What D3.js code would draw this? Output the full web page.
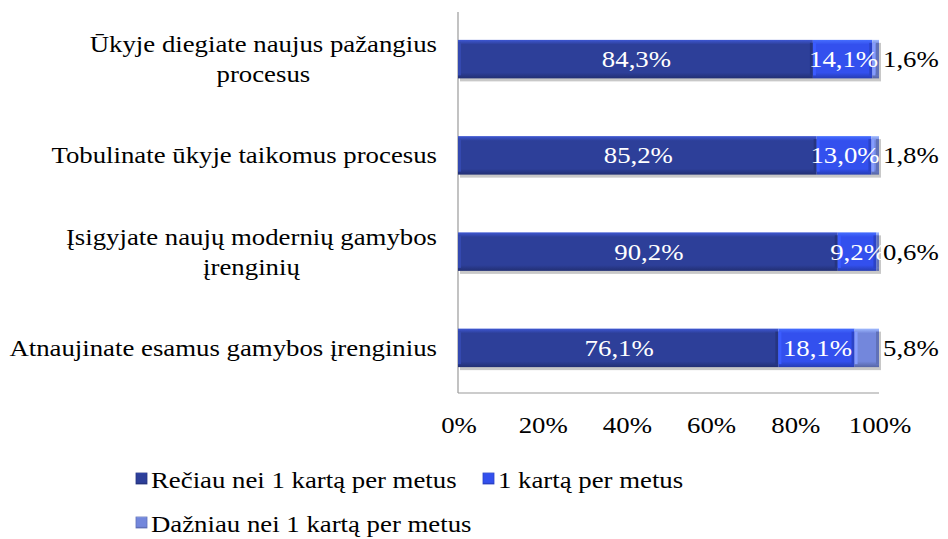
<!DOCTYPE html>
<html>
<head>
<meta charset="utf-8">
<script src="https://cdn.jsdelivr.net/npm/d3@7"></script>
</head>
<body style="margin:0; background:#fff">
<div id="chart"></div>
<script>
const categories = [
    ["Ūkyje diegiate naujus pažangius", "procesus"],
    ["Tobulinate ūkyje taikomus procesus"],
    ["Įsigyjate naujų modernių gamybos", "įrenginių"],
    ["Atnaujinate esamus gamybos įrenginius"]
];
const seriesNames = ["Rečiau nei 1 kartą per metus", "1 kartą per metus", "Dažniau nei 1 kartą per metus"];
const rarely = [84.3, 85.2, 90.2, 76.1];
const once = [14.1, 13.0, 9.2, 18.1];
const often = [1.6, 1.8, 0.6, 5.8];
const tickValues = [0, 20, 40, 60, 80, 100];

const colors = ["#2d3f99", "#3350ee", "#7387dc"];
const width = 948, height = 539;
const fontFamily = "Liberation Serif";
const stretch = 1.165;   // text in the original is a bit wider than Times

let svg = d3.select("#chart").append("svg")
    .attr("width", width)
    .attr("height", height);

// places a horizontally stretched text at (px, py)
function addText(parent, px, py, str, anchor) {
    return parent.append("text")
        .attr("transform", "translate(" + px + "," + py + ") scale(" + stretch + ",1)")
        .attr("text-anchor", anchor || "start")
        .attr("font-family", fontFamily)
        .attr("font-size", 23)
        .text(str);
}

let defs = svg.append("defs");
colors.forEach(function (c, i) {
    let g = defs.append("linearGradient")
        .attr("id", "grad" + i)
        .attr("x1", 0).attr("x2", 0).attr("y1", 0).attr("y2", 1);
    g.append("stop").attr("offset", "0%").attr("stop-color", d3.color(c).brighter(0.9));
    g.append("stop").attr("offset", "12%").attr("stop-color", c);
    g.append("stop").attr("offset", "85%").attr("stop-color", c);
    g.append("stop").attr("offset", "100%").attr("stop-color", d3.color(c).darker(0.8));
});

let x = d3.scaleLinear().domain([0, 100]).range([458, 879]);
let y = d3.scaleBand().domain(d3.range(categories.length)).range([11, 396])
    .paddingInner(0.6).paddingOuter(0.3);

// axis lines
svg.append("line").attr("x1", x(0)).attr("x2", x(0)).attr("y1", 12).attr("y2", 393)
    .attr("stroke", "#9a9a9a").attr("stroke-width", 1.2);
svg.append("line").attr("x1", x(0)).attr("x2", x(100)).attr("y1", 393).attr("y2", 393)
    .attr("stroke", "#9a9a9a").attr("stroke-width", 1.2);

// tick labels
tickValues.forEach(function (t) {
    addText(svg, x(t) + 1, 433, t + "%", "middle");
});

let fmt = v => v.toFixed(1).replace(".", ",") + "%";

let stacked = categories.map(function (c, i) {
    let vals = [rarely[i], once[i], often[i]];
    let start = 0;
    return vals.map(function (v, k) {
        let seg = { cat: i, k: k, v: v, x0: start, x1: start + v };
        start += v;
        return seg;
    });
});

// shadow
svg.selectAll(".shadow").data(stacked).enter().append("rect")
    .attr("x", d => x(0) + 2)
    .attr("y", (d, i) => y(i) + 3)
    .attr("width", d => x(d[2].x1) - x(0))
    .attr("height", y.bandwidth())
    .attr("fill", "#c8c8c8");

let segs = svg.selectAll(".seg").data(stacked.flat()).enter().append("g");

segs.append("rect")
    .attr("x", d => x(d.x0))
    .attr("y", d => y(d.cat))
    .attr("width", d => x(d.x1) - x(d.x0))
    .attr("height", y.bandwidth())
    .attr("fill", d => "url(#grad" + d.k + ")");

// bevel edges left/right
segs.append("rect")
    .attr("x", d => x(d.x0))
    .attr("y", d => y(d.cat) + 3)
    .attr("width", d => Math.min(3, x(d.x1) - x(d.x0)))
    .attr("height", y.bandwidth() - 6)
    .attr("fill", d => d3.color(colors[d.k]).brighter(0.4));
segs.append("rect")
    .attr("x", d => Math.max(x(d.x0), x(d.x1) - 3))
    .attr("y", d => y(d.cat) + 3)
    .attr("width", d => Math.min(3, x(d.x1) - x(d.x0)))
    .attr("height", y.bandwidth() - 6)
    .attr("fill", d => d3.color(colors[d.k]).darker(0.5));

// data labels
stacked.flat().forEach(function (d) {
    let ly = y(d.cat) + y.bandwidth() / 2 + 8;
    if (d.k === 2) {
        addText(svg, x(d.x1) + 4, ly, fmt(d.v), "start").attr("fill", "#000");
    } else {
        addText(svg, (x(d.x0) + x(d.x1)) / 2 + 1, ly, fmt(d.v), "middle").attr("fill", "#fff");
    }
});

// category labels
const labelRight = 437;
const lineH = 30;
categories.forEach(function (lines, i) {
    let g = svg.append("g");
    let cy = y(i) + y.bandwidth() / 2;
    let texts = lines.map(function (l, j) {
        return addText(g, 0, cy + (j - (lines.length - 1) / 2) * lineH + 8, l, "middle");
    });
    let maxW = d3.max(texts, t => t.node().getComputedTextLength()) * stretch;
    texts.forEach(function (t, j) {
        let ty = cy + (j - (lines.length - 1) / 2) * lineH + 8;
        t.attr("transform", "translate(" + (labelRight - maxW / 2) + "," + ty + ") scale(" + stretch + ",1)");
    });
});

// legend
const legendPos = [[136, 480], [483, 480], [136, 524]];
seriesNames.forEach(function (name, k) {
    let p = legendPos[k];
    svg.append("rect")
        .attr("x", p[0]).attr("y", p[1] - 7)
        .attr("width", 11).attr("height", 11)
        .attr("fill", "url(#grad" + k + ")")
        .attr("stroke", d3.color(colors[k]).darker(0.5)).attr("stroke-width", 0.8);
    addText(svg, p[0] + 15, p[1] + 8, name, "start");
});
</script>
</body>
</html>
